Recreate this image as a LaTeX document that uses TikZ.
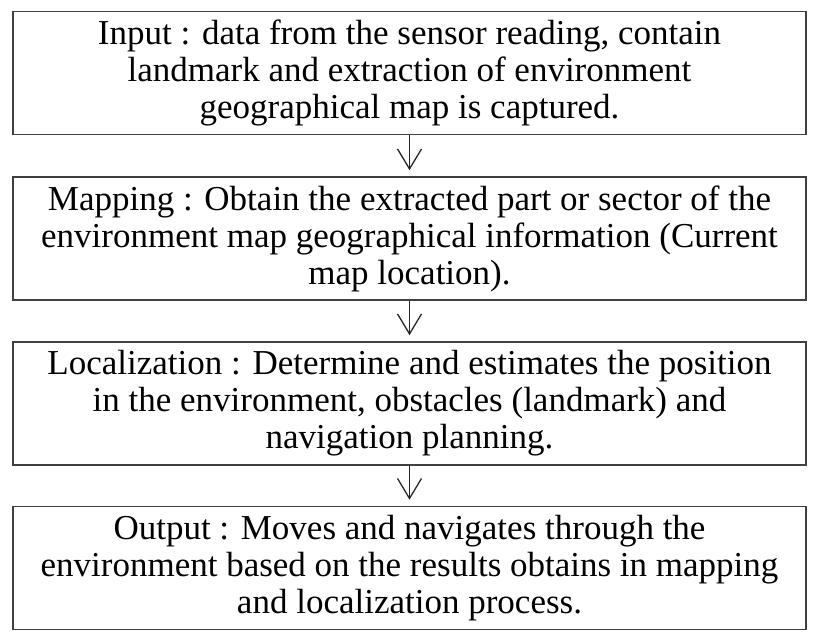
\documentclass[tikz,border=0pt]{standalone}
\usepackage{fontspec}
\setmainfont{Liberation Serif}
\usetikzlibrary{arrows.meta}
\begin{document}
\begin{tikzpicture}[x=1pt,y=-1pt,
  flowbox/.style={draw=black!75, line width=1.6pt, minimum width=793pt, minimum height=123pt,
    align=center, inner sep=0pt, font=\fontsize{35}{37}\selectfont, text=black},
  arr/.style={line width=1.3pt, draw=black!85, -{Straight Barb[length=20pt,width=24pt,line width=1.3pt]}, shorten >=6pt}]
\useasboundingbox (0,0) rectangle (822,639);
\node[flowbox] (b1) at (409.5,73) {Input : data from the sensor reading, contain\\landmark and extraction of environment\\geographical map is captured.};
\node[flowbox] (b2) at (409.5,238.5) {Mapping : Obtain the extracted part or sector of the\\environment map geographical information (Current\\map location).};
\node[flowbox] (b3) at (409.5,403.5) {Localization : Determine and estimates the position\\in the environment, obstacles (landmark) and\\navigation planning.};
\node[flowbox] (b4) at (409.5,568) {Output : Moves and navigates through the\\environment based on the results obtains in mapping\\and localization process.};
\draw[arr] (b1.south) -- (b2.north);
\draw[arr] (b2.south) -- (b3.north);
\draw[arr] (b3.south) -- (b4.north);
\end{tikzpicture}
\end{document}
